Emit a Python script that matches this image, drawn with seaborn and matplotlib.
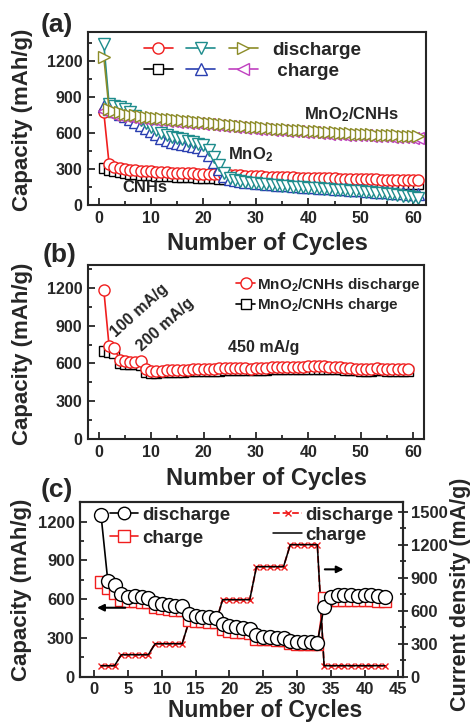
import numpy as np
import seaborn as sns
import matplotlib
matplotlib.use('Agg')
import matplotlib.pyplot as plt
from matplotlib.lines import Line2D
from matplotlib.ticker import MultipleLocator

# ---------------- data: panel (a) ----------------
cyc_a = list(range(1, 62))
cnh_dis = [770, 345, 320, 310, 300, 295, 290, 286, 282, 279, 276, 274, 272, 270, 268, 266, 265, 263, 262, 260,
           258, 256, 254, 252, 250, 248, 246, 244, 242, 240, 238, 236, 235, 233, 232, 230, 229, 228, 227, 226,
           225, 224, 223, 222, 221, 220, 219, 218, 217, 216, 215, 214, 213, 212, 211, 210, 209, 208, 207, 206, 205]
cnh_chg = [310, 290, 280, 272, 266, 261, 257, 253, 250, 247, 244, 242, 240, 238, 236, 234, 232, 230, 228, 226,
           224, 222, 220, 218, 216, 214, 212, 210, 208, 206, 205, 204, 203, 202, 201, 200, 199, 198, 197, 196,
           195, 194, 193, 192, 191, 190, 189, 188, 187, 186, 185, 184, 183, 182, 181, 180, 179, 178, 177, 176, 175]
mno2_dis = [1340, 840, 825, 815, 800, 770, 740, 710, 680, 650, 625, 600, 580, 565, 555, 545, 535, 525, 510, 495,
            460, 400, 330, 265, 225, 210, 200, 193, 187, 181, 176, 172, 168, 164, 160, 157, 154, 150, 147, 144,
            141, 138, 135, 132, 129, 126, 123, 120, 117, 114, 111, 107, 103, 99, 95, 90, 84, 78, 72, 66, 60]
mno2_chg = [825, 800, 780, 760, 740, 715, 690, 665, 640, 615, 590, 560, 540, 525, 515, 505, 498, 490, 480, 460,
            420, 360, 300, 245, 215, 205, 198, 193, 188, 184, 180, 176, 172, 169, 166, 163, 160, 157, 154, 151,
            148, 145, 142, 139, 136, 133, 130, 127, 124, 121, 118, 115, 112, 109, 106, 103, 100, 97, 94, 91, 88]
mc_dis = [1230, 800, 780, 770, 760, 752, 745, 740, 735, 730, 725, 720, 716, 712, 708, 704, 700, 696, 692, 688,
          684, 680, 676, 672, 668, 664, 660, 656, 652, 648, 645, 642, 639, 636, 633, 630, 627, 624, 621, 618,
          615, 612, 609, 606, 603, 600, 598, 596, 594, 592, 590, 588, 586, 584, 582, 580, 578, 576, 574, 572, 570]
mc_chg = [785, 765, 750, 742, 736, 730, 725, 720, 716, 712, 708, 704, 700, 696, 692, 688, 685, 682, 678, 675,
          671, 668, 664, 660, 656, 652, 648, 644, 640, 636, 633, 630, 627, 624, 621, 618, 615, 612, 609, 606,
          603, 600, 597, 594, 591, 588, 586, 584, 582, 580, 578, 576, 574, 572, 570, 568, 566, 564, 562, 560, 558]

# ---------------- data: panel (b) ----------------
cyc_b = list(range(1, 60))
b_dis = [1180, 740, 725, 630, 620, 615, 612, 620, 560, 540, 540, 542, 545, 548, 550, 550, 552, 553, 555, 556,
         558, 560, 561, 562, 563, 564, 565, 566, 560, 563, 566, 568, 570, 571, 572, 573, 574, 575, 576, 577,
         578, 578, 577, 576, 575, 572, 568, 564, 560, 558, 558, 560, 561, 560, 558, 556, 555, 555, 555]
b_chg = [700, 690, 680, 600, 598, 596, 594, 590, 530, 525, 527, 530, 532, 534, 535, 536, 537, 538, 539, 540,
         542, 543, 544, 545, 546, 547, 548, 548, 545, 548, 550, 552, 553, 554, 555, 556, 557, 558, 559, 560,
         560, 560, 559, 558, 557, 555, 552, 548, 545, 543, 543, 544, 545, 545, 544, 543, 542, 542, 542]

# ---------------- data: panel (c) ----------------
cyc_c = list(range(1, 44))
c_dis = [1251, 743, 710, 640, 619, 625, 619, 606, 573, 563, 555, 550, 545, 485, 470, 465, 460, 452, 408, 392,
         382, 374, 367, 320, 310, 305, 302, 297, 279, 271, 268, 266, 263, 542, 620, 630, 632, 630, 628, 630,
         635, 628, 615]
c_chg = [730, 684, 650, 594, 588, 585, 580, 575, 542, 530, 525, 520, 515, 439, 432, 428, 425, 420, 369, 355,
         350, 345, 340, 295, 292, 290, 288, 286, 258, 255, 253, 251, 250, 612, 595, 592, 590, 590, 590, 590,
         590, 588, 586]
c_cur = [100, 100, 100, 200, 200, 200, 200, 200, 300, 300, 300, 300, 300, 500, 500, 500, 500, 500, 700, 700,
         700, 700, 700, 1000, 1000, 1000, 1000, 1000, 1200, 1200, 1200, 1200, 1200, 100, 100, 100, 100, 100, 100, 100,
         100, 100, 100]

sns.set_theme(style='ticks')
plt.rcParams['font.family'] = ['Liberation Sans', 'DejaVu Sans']
plt.rcParams['font.weight'] = 'bold'
plt.rcParams['axes.labelweight'] = 'bold'
plt.rcParams['axes.linewidth'] = 1.5
plt.rcParams['mathtext.fontset'] = 'custom'
plt.rcParams['mathtext.rm'] = 'Liberation Sans:bold'
plt.rcParams['mathtext.bf'] = 'Liberation Sans:bold'
plt.rcParams['mathtext.default'] = 'bf'

RED = '#f01e1e'
TEAL = '#1e8c8c'
OLIVE = '#8c8c28'
BLUE = '#2a3fb0'
PINK = '#c040c0'

fig = plt.figure(figsize=(4.71, 7.22), dpi=100)


def style_axis(ax, fs=11.5):
    ax.tick_params(axis='both', which='both', direction='in', top=False, right=False,
                   labelsize=fs, width=1.3)
    ax.tick_params(which='major', length=5, pad=4)
    ax.tick_params(which='minor', length=3)
    for lab in ax.get_xticklabels() + ax.get_yticklabels():
        lab.set_fontweight('bold')


def series(ax, x, y, color, marker, ms=8, lw=1.2, mec=None, zorder=2):
    sns.lineplot(x=x, y=y, ax=ax, color=color, marker=marker, markersize=ms,
                 markerfacecolor='white', markeredgecolor=mec or color, markeredgewidth=1.0,
                 linewidth=lw, zorder=zorder, legend=False)


def h(color, marker, ms=8):
    return Line2D([], [], color=color, marker=marker, markersize=ms, markerfacecolor='white',
                  markeredgecolor=color, markeredgewidth=1.0, linewidth=1.2)


XL, YL = 17, 16

# ---------------- (a) ----------------
ax1 = fig.add_axes([0.187, 0.716, 0.717, 0.240])
series(ax1, cyc_a, cnh_chg, 'black', 's', ms=7)
series(ax1, cyc_a, cnh_dis, RED, 'o', ms=8)
series(ax1, cyc_a, mno2_chg, BLUE, '^', ms=8)
series(ax1, cyc_a, mno2_dis, TEAL, 'v', ms=8)
series(ax1, cyc_a, mc_chg, PINK, '<', ms=8)
series(ax1, cyc_a, mc_dis, OLIVE, '>', ms=8)
ax1.set_xlim(-2, 62.4)
ax1.set_ylim(0, 1440)
ax1.xaxis.set_major_locator(MultipleLocator(10))
ax1.xaxis.set_minor_locator(MultipleLocator(5))
ax1.yaxis.set_major_locator(MultipleLocator(300))
ax1.yaxis.set_minor_locator(MultipleLocator(150))
style_axis(ax1)
ax1.set_xlabel('Number of Cycles', fontsize=XL, fontweight='bold')
ax1.set_ylabel('Capacity (mAh/g)', fontsize=YL, fontweight='bold')
ax1.xaxis.set_label_coords(0.53, -0.156)
ax1.yaxis.set_label_coords(-0.163, 0.49)

handles_a = [h(RED, 'o'), h('black', 's', 7), h(TEAL, 'v'), h(BLUE, '^'), h(OLIVE, '>'), h(PINK, '<')]
labels_a = ['', '', '', '', 'discharge', ' charge']
ax1.legend(handles_a, labels_a, ncol=3, loc='upper left', bbox_to_anchor=(0.125, 1.02),
           frameon=False, handlelength=1.55, handletextpad=0.75,
           columnspacing=-0.05, labelspacing=0.2, borderpad=0.2,
           prop={'weight': 'bold', 'size': 13.6})
ax1.text(48.3, 750, 'MnO$_2$/CNHs', fontsize=12, fontweight='bold', ha='center', va='center')
ax1.text(29, 417, 'MnO$_2$', fontsize=12, fontweight='bold', ha='center', va='center')
ax1.text(8.9, 142, 'CNHs', fontsize=12, fontweight='bold', ha='center', va='center')
fig.text(41 / 471, 1 - 25 / 722, '(a)', fontsize=19, fontweight='bold', ha='left', va='center')

# ---------------- (b) ----------------
ax2 = fig.add_axes([0.187, 0.3916, 0.713, 0.2414])
series(ax2, cyc_b, b_chg, 'black', 's', ms=7)
series(ax2, cyc_b, b_dis, RED, 'o', ms=8)
ax2.set_xlim(-2, 62)
ax2.set_ylim(0, 1380)
ax2.xaxis.set_major_locator(MultipleLocator(10))
ax2.xaxis.set_minor_locator(MultipleLocator(5))
ax2.yaxis.set_major_locator(MultipleLocator(300))
ax2.yaxis.set_minor_locator(MultipleLocator(150))
style_axis(ax2)
ax2.set_xlabel('Number of Cycles', fontsize=XL, fontweight='bold')
ax2.set_ylabel('Capacity (mAh/g)', fontsize=YL, fontweight='bold')
ax2.xaxis.set_label_coords(0.531, -0.159)
ax2.yaxis.set_label_coords(-0.163, 0.49)
ax2.legend([h(RED, 'o'), h('black', 's', 7)], ['MnO$_2$/CNHs discharge', 'MnO$_2$/CNHs charge'],
           loc='upper left', bbox_to_anchor=(0.41, 1.0), frameon=False, handlelength=1.2,
           handletextpad=0.15, labelspacing=0.15, borderpad=0.2, prop={'weight': 'bold', 'size': 11})
ax2.text(7.8, 1020, '100 mA/g', fontsize=11.5, fontweight='bold', rotation=42, ha='center', va='center')
ax2.text(12.8, 905, '200 mA/g', fontsize=11.5, fontweight='bold', rotation=42, ha='center', va='center')
ax2.text(31.5, 723, '450 mA/g', fontsize=11.5, fontweight='bold', ha='center', va='center')
fig.text(43 / 471, 1 - 255 / 722, '(b)', fontsize=19, fontweight='bold', ha='left', va='center')

# ---------------- (c) ----------------
ax3 = fig.add_axes([0.170, 0.0627, 0.686, 0.2416])
ax4 = ax3.twinx()
ax3.set_zorder(ax4.get_zorder() + 1)
ax3.patch.set_visible(False)
sns.lineplot(x=cyc_c, y=c_cur, ax=ax4, color=RED, linestyle='--', marker='x', markersize=4,
             markeredgecolor=RED, markeredgewidth=1.0, linewidth=1.3, legend=False)
sns.lineplot(x=cyc_c, y=c_cur, ax=ax4, color='black', linewidth=1.1, legend=False)
series(ax3, cyc_c, c_chg, RED, 's', ms=8)
series(ax3, cyc_c, c_dis, 'black', 'o', ms=10)
ax3.set_xlim(-2.1, 45.7)
ax3.set_ylim(0, 1350)
ax4.set_ylim(0, 1585)
ax3.xaxis.set_major_locator(MultipleLocator(5))
ax3.yaxis.set_major_locator(MultipleLocator(300))
ax3.yaxis.set_minor_locator(MultipleLocator(150))
ax4.yaxis.set_major_locator(MultipleLocator(300))
ax4.yaxis.set_minor_locator(MultipleLocator(150))
style_axis(ax3, fs=12)
ax4.tick_params(axis='y', which='both', direction='inout', labelsize=12, width=1.3, left=False)
ax4.tick_params(which='major', length=7, pad=2)
ax4.tick_params(which='minor', length=4)
for lab in ax4.get_yticklabels():
    lab.set_fontweight('bold')
ax3.set_xlabel('Number of Cycles', fontsize=16.5, fontweight='bold')
ax3.set_ylabel('Capacity (mAh/g)', fontsize=YL, fontweight='bold')
ax4.set_ylabel('Current density (mA/g)', fontsize=15.5, fontweight='bold')
ax3.xaxis.set_label_coords(0.573, -0.128)
ax3.yaxis.set_label_coords(-0.149, 0.5)
ax4.yaxis.set_label_coords(1.146, 0.47)
ax3.legend([h('black', 'o', 9), h(RED, 's', 8)], ['discharge', 'charge'], loc='upper left',
           bbox_to_anchor=(0.053, 1.05), frameon=False, handlelength=1.5, handletextpad=0.2,
           labelspacing=0.3, borderpad=0.2, prop={'weight': 'bold', 'size': 13.5})
ax4.legend([Line2D([], [], color=RED, linestyle='--', marker='x', markersize=4, linewidth=1.3),
            Line2D([], [], color='black', linewidth=1.1)], ['discharge', 'charge'],
           loc='upper left', bbox_to_anchor=(0.558, 1.05), frameon=False, handlelength=1.5,
           handletextpad=0.2, labelspacing=0.15, borderpad=0.2, prop={'weight': 'bold', 'size': 13.5})
ax3.annotate('', xy=(0.0, 534), xytext=(5.0, 534),
             arrowprops=dict(arrowstyle='-|>', color='black', lw=1.5, mutation_scale=10))
ax3.annotate('', xy=(37.3, 831), xytext=(33.7, 831),
             arrowprops=dict(arrowstyle='-|>', color='black', lw=1.5, mutation_scale=10))
fig.text(41 / 471, 1 - 490 / 722, '(c)', fontsize=19, fontweight='bold', ha='left', va='center')

fig.savefig('out.png', dpi=100)
